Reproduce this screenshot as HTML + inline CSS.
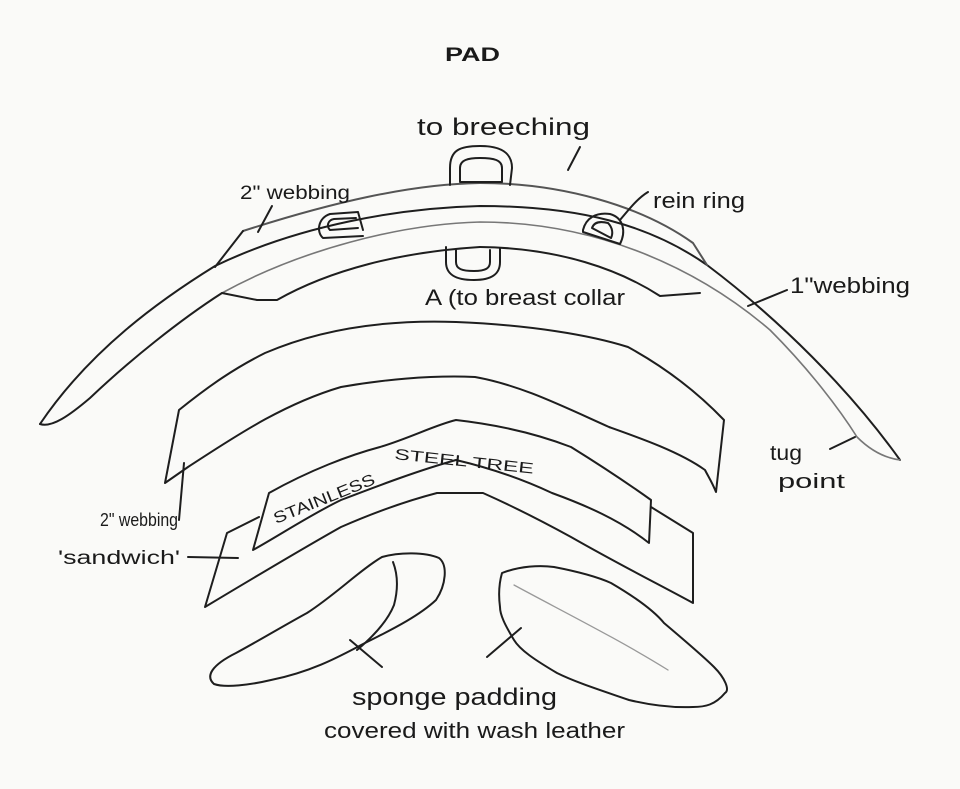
<!DOCTYPE html>
<html><head><meta charset="utf-8"><style>
html,body{margin:0;padding:0;background:#fafaf8;}
svg{display:block}
text{font-family:"Liberation Sans","DejaVu Sans",sans-serif;fill:#1a1a1a}
</style></head><body>
<svg width="960" height="789" viewBox="0 0 960 789" xmlns="http://www.w3.org/2000/svg">
<rect width="960" height="789" fill="#fafaf8"/>
<g fill="none" stroke="#1e1e1e" stroke-width="2" stroke-linejoin="round" stroke-linecap="round">
<path d="M40,424 C90,350 160,300 215,266 C300,225 400,208 480,206 C580,206 650,225 707,265 C780,320 850,390 900,460"/>
<path d="M40,424 C52,428 70,415 90,398 C130,360 180,320 222,293" />
<path d="M222,293 C300,250 400,224 480,222 C600,222 700,270 770,330 C810,370 840,410 857,437 C870,450 885,458 900,460" stroke="#777" stroke-width="1.6"/>
<path d="M243,231 C330,203 410,184 480,183 C560,183 640,205 693,243 L707,265" stroke="#555"/>
<path d="M243,231 L215,267"/>
<path d="M480,247 C400,252 330,270 277,300 L257,300 L222,293"/>
<path d="M480,247 C560,248 620,270 660,296 L700,293"/>
<path d="M450,185 L450,168 C450,150 460,146 480,146 C500,146 512,152 512,168 L510,185"/>
<path d="M460,182 L460,168 C460,160 468,158 480,158 C494,158 502,160 502,168 L502,182 Z"/>
<path d="M446,247 L446,262 C446,276 458,280 474,280 C492,280 500,274 500,262 L500,248"/>
<path d="M456,250 L456,262 C456,269 462,271 474,271 C486,271 490,268 490,262 L490,250"/>
<path d="M363,236 L323,238 C316,232 318,218 330,214 L358,212 L363,230"/>
<path d="M358,228 L330,230 C326,226 328,220 334,219 L356,218"/>
<path d="M583,230 C586,218 596,212 610,214 C624,218 626,232 620,244 L583,232 Z"/>
<path d="M592,228 C594,222 600,221 608,223 C613,228 613,234 611,238 Z"/>
<path d="M179,410 C210,385 235,368 265,353 C330,325 400,320 456,322 C530,325 590,335 628,347 C670,370 700,395 724,420 L716,492 C712,482 708,476 705,470 C680,452 640,438 609,427 C560,405 520,385 475,377 C430,375 380,380 341,387 C280,405 230,440 188,467 L165,483 L179,410 Z"/>
<path d="M269,493 C310,470 350,455 380,447 C410,438 435,425 456,420 C500,425 540,435 571,447 C600,465 630,485 651,500 L649,543 C620,520 585,505 552,493 C520,478 490,468 456,460 C420,470 380,485 341,500 C310,515 280,535 253,550 Z"/>
<path d="M259,517 L227,533 L205,607 C250,580 300,550 341,527 C380,510 410,500 437,493 L483,493 C510,505 540,520 571,537 C620,565 660,585 693,603 L693,533 L651,507"/>
<path d="M214,684 C205,676 212,665 236,653 C260,640 285,625 307,613 C335,595 360,570 382,557 C400,552 425,552 439,558 C448,565 446,585 436,600 C420,615 395,628 371,640 C350,650 320,670 271,680 C250,685 225,688 214,684 Z"/>
<path d="M393,562 C398,575 398,590 394,605 C388,620 375,635 357,650"/>
<path d="M350,640 L382,667"/>
<path d="M502,573 C520,566 540,565 554,567 C580,572 600,578 611,583 C640,600 655,612 664,623 C690,645 705,658 714,667 C725,678 730,690 725,693 C715,705 705,707 693,707 C670,708 650,705 629,700 C600,690 575,682 557,673 C535,660 520,650 514,640 C505,625 500,615 500,607 C498,592 500,580 502,573 Z"/>
<path d="M514,585 C560,610 620,640 668,670" stroke="#999" stroke-width="1.3"/>
<path d="M521,628 L487,657"/>
<path d="M580,147 L568,170"/>
<path d="M272,206 L258,232"/>
<path d="M648,192 C638,198 630,208 620,220"/>
<path d="M787,290 L748,306"/>
<path d="M855,437 L830,449"/>
<path d="M184,463 L179,520"/>
<path d="M188,557 L238,558"/>
</g>
<text x="445" y="61" font-size="19" font-weight="bold" textLength="55" lengthAdjust="spacingAndGlyphs">PAD</text>
<text x="417" y="135" font-size="24" textLength="173" lengthAdjust="spacingAndGlyphs">to breeching</text>
<text x="240" y="199" font-size="19" textLength="110" lengthAdjust="spacingAndGlyphs">2" webbing</text>
<text x="653" y="208" font-size="22" textLength="92" lengthAdjust="spacingAndGlyphs">rein ring</text>
<text x="425" y="305" font-size="22" textLength="200" lengthAdjust="spacingAndGlyphs">A (to breast collar</text>
<text x="790" y="293" font-size="22" textLength="120" lengthAdjust="spacingAndGlyphs">1"webbing</text>
<text x="770" y="460" font-size="21" textLength="32" lengthAdjust="spacingAndGlyphs">tug</text>
<text x="778" y="488" font-size="20" textLength="67" lengthAdjust="spacingAndGlyphs">point</text>
<text x="100" y="526" font-size="18" textLength="78" lengthAdjust="spacingAndGlyphs">2" webbing</text>
<text x="58" y="564" font-size="19" textLength="122" lengthAdjust="spacingAndGlyphs">'sandwich'</text>
<text x="276" y="524" font-size="16" textLength="108" lengthAdjust="spacingAndGlyphs" transform="rotate(-22 276 524)">STAINLESS</text>
<text x="394" y="459" font-size="15" textLength="140" lengthAdjust="spacingAndGlyphs" transform="rotate(6 394 459)">STEEL TREE</text>
<text x="352" y="705" font-size="24" textLength="205" lengthAdjust="spacingAndGlyphs">sponge padding</text>
<text x="324" y="738" font-size="22" textLength="301" lengthAdjust="spacingAndGlyphs">covered with wash leather</text>
</svg>
</body></html>
